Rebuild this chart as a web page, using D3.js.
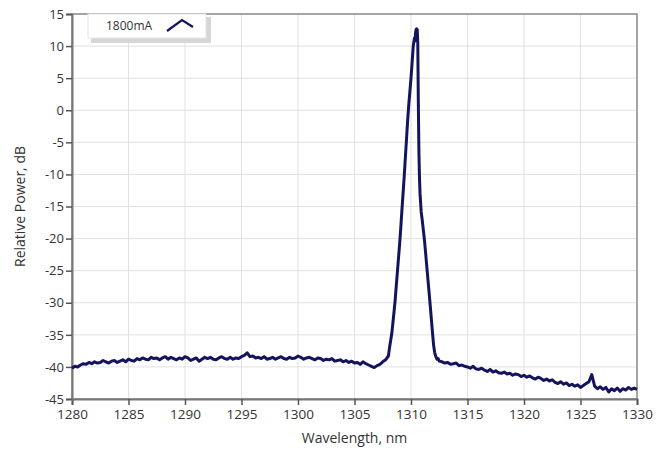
<!DOCTYPE html>
<html>
<head>
<meta charset="utf-8">
<script src="https://cdn.jsdelivr.net/npm/d3@7"></script>
<style>
  body { margin: 0; background: #fff; }
  text { font-family: "Open Sans", "Noto Sans", sans-serif; fill: #333; }
</style>
</head>
<body>
<svg id="spectrum" width="670" height="451"></svg>
<script>
// wavelength samples, nm
let wavelength = [
  1280.00, 1280.25, 1280.50, 1280.75, 1281.00, 1281.25, 1281.50, 1281.75,
  1282.00, 1282.25, 1282.50, 1282.75, 1283.00, 1283.25, 1283.50, 1283.75,
  1284.00, 1284.25, 1284.50, 1284.75, 1285.00, 1285.25, 1285.50, 1285.75,
  1286.00, 1286.25, 1286.50, 1286.75, 1287.00, 1287.25, 1287.50, 1287.75,
  1288.00, 1288.25, 1288.50, 1288.75, 1289.00, 1289.25, 1289.50, 1289.75,
  1290.00, 1290.25, 1290.50, 1290.75, 1291.00, 1291.25, 1291.50, 1291.75,
  1292.00, 1292.25, 1292.50, 1292.75, 1293.00, 1293.25, 1293.50, 1293.75,
  1294.00, 1294.25, 1294.50, 1294.75, 1295.00, 1295.25, 1295.50, 1295.75,
  1296.00, 1296.25, 1296.50, 1296.75, 1297.00, 1297.25, 1297.50, 1297.75,
  1298.00, 1298.25, 1298.50, 1298.75, 1299.00, 1299.25, 1299.50, 1299.75,
  1300.00, 1300.25, 1300.50, 1300.75, 1301.00, 1301.25, 1301.50, 1301.75,
  1302.00, 1302.25, 1302.50, 1302.75, 1303.00, 1303.25, 1303.50, 1303.75,
  1304.00, 1304.25, 1304.50, 1304.75, 1305.00, 1305.25, 1305.50, 1305.75,
  1306.00, 1306.25, 1306.50, 1306.75, 1307.00, 1307.25, 1307.50, 1307.75,
  1308.00, 1308.10, 1308.20, 1308.30, 1308.40, 1308.50, 1308.60, 1308.70,
  1308.80, 1308.90, 1309.00, 1309.10, 1309.20, 1309.30, 1309.40, 1309.50,
  1309.60, 1309.70, 1309.80, 1309.90, 1310.00, 1310.10, 1310.20, 1310.30,
  1310.35, 1310.40, 1310.45, 1310.50, 1310.55, 1310.60, 1310.65, 1310.70,
  1310.75, 1310.80, 1310.90, 1311.00, 1311.10, 1311.20, 1311.30, 1311.40,
  1311.50, 1311.60, 1311.70, 1311.80, 1311.90, 1312.00, 1312.10, 1312.20,
  1312.30, 1312.40, 1312.50,
  1312.75, 1313.00, 1313.25, 1313.50, 1313.75, 1314.00, 1314.25, 1314.50,
  1314.75, 1315.00, 1315.25, 1315.50, 1315.75, 1316.00, 1316.25, 1316.50,
  1316.75, 1317.00, 1317.25, 1317.50, 1317.75, 1318.00, 1318.25, 1318.50,
  1318.75, 1319.00, 1319.25, 1319.50, 1319.75, 1320.00, 1320.25, 1320.50,
  1320.75, 1321.00, 1321.25, 1321.50, 1321.75, 1322.00, 1322.25, 1322.50,
  1322.75, 1323.00, 1323.25, 1323.50, 1323.75, 1324.00, 1324.25, 1324.50,
  1324.75, 1325.00, 1325.25, 1325.50, 1325.75, 1326.00, 1326.25, 1326.50,
  1326.75, 1327.00, 1327.25, 1327.50, 1327.75, 1328.00, 1328.25, 1328.50,
  1328.75, 1329.00, 1329.25, 1329.50, 1329.75, 1330.00
]

// relative power at 1800mA, dB
let power1800 = [
  -40.2, -39.9, -40.0, -39.7, -39.5, -39.6, -39.3, -39.5,
  -39.2, -39.4, -39.3, -39.0, -39.2, -39.4, -39.1, -39.0,
  -39.3, -39.1, -38.9, -39.2, -38.8, -39.0, -39.1, -38.7,
  -38.9, -38.6, -38.8, -38.9, -38.5, -38.7, -38.6, -38.9,
  -38.6, -38.4, -38.8, -38.5, -38.7, -38.9, -38.6, -38.8,
  -38.4, -38.6, -39.0, -38.8, -38.6, -39.1, -38.8, -38.5,
  -38.7, -38.5, -38.8, -38.9, -38.6, -38.4, -38.7, -38.8,
  -38.5, -38.8, -38.6, -38.7, -38.4, -38.2, -37.8, -38.4,
  -38.3, -38.6, -38.5, -38.7, -38.4, -38.8, -38.7, -38.5,
  -38.8, -38.6, -38.4, -38.7, -38.8, -38.5, -38.7, -38.6,
  -38.3, -38.5, -38.8, -38.6, -38.5, -38.7, -38.9, -38.6,
  -38.7, -39.0, -38.8, -38.9, -38.7, -39.1, -39.0, -38.9,
  -39.2, -39.0, -39.3, -39.1, -39.4, -39.3, -39.6, -39.2,
  -39.5, -39.7, -39.9, -40.1, -39.8, -39.6, -39.2, -38.9,
  -38.3, -37.0, -35.9, -34.8, -33.1, -31.4, -29.6, -27.3,
  -25.1, -22.9, -20.7, -18.2, -15.5, -12.9, -10.3, -7.4,
  -4.6, -1.7, 0.8, 2.9, 5.0, 7.5, 10.0, 11.2,
  10.8, 12.0, 12.6, 12.7, 12.6, 10.5, 1.0, -6.5,
  -10.5, -13.0, -15.8, -17.2, -18.8, -20.4, -22.4, -24.4,
  -26.4, -28.4, -30.4, -32.5, -34.6, -36.6, -37.8, -38.4,
  -38.8, -38.7, -39.1,
  -39.2, -39.4, -39.3, -39.6, -39.5, -39.4, -39.8, -39.7,
  -39.9, -40.0, -40.2, -39.9, -40.3, -40.4, -40.2, -40.5,
  -40.7, -40.4, -40.8, -40.6, -40.9, -41.0, -40.8, -41.1,
  -41.0, -41.3, -41.1, -41.2, -41.5, -41.3, -41.6, -41.4,
  -41.7, -41.9, -41.6, -41.8, -42.1, -41.9, -42.2, -42.0,
  -42.4, -42.6, -42.3, -42.7, -42.5, -42.9, -42.7, -43.0,
  -42.8, -43.2, -42.9, -42.6, -42.3, -41.2, -43.0, -43.4,
  -43.1, -43.5, -43.2, -43.9, -43.4, -43.7, -43.3, -43.8,
  -43.4, -43.6, -43.2, -43.5, -43.3, -43.5
]

let xTicks = [1280, 1285, 1290, 1295, 1300, 1305, 1310, 1315, 1320, 1325, 1330]
let yTicks = [15, 10, 5, 0, -5, -10, -15, -20, -25, -30, -35, -40, -45]
let seriesName = "1800mA"

let data = wavelength.map((w, i) => ({ w: w, p: power1800[i] }))

let margin = { top: 14, right: 33, bottom: 52, left: 72 }
let width = 670
let height = 451
let svg = d3.select("#spectrum")

let x = d3.scaleLinear()
    .domain([1280, 1330])
    .range([margin.left, width - margin.right])

let y = d3.scaleLinear()
    .domain([-45, 15])
    .range([height - margin.bottom, margin.top])

// grid
svg.append("g")
    .attr("class", "grid")
    .selectAll("line.v")
    .data(xTicks)
    .join("line")
    .attr("x1", d => x(d)).attr("x2", d => x(d))
    .attr("y1", y(15)).attr("y2", y(-45))
    .style("stroke", "#e1e1e1")
    .style("stroke-width", "1px")

svg.append("g")
    .attr("class", "grid")
    .selectAll("line.h")
    .data(yTicks)
    .join("line")
    .attr("x1", x(1280)).attr("x2", x(1330))
    .attr("y1", d => y(d)).attr("y2", d => y(d))
    .style("stroke", "#e1e1e1")
    .style("stroke-width", "1px")

// frame
svg.append("rect")
    .attr("x", x(1280))
    .attr("y", y(15))
    .attr("width", x(1330) - x(1280))
    .attr("height", y(-45) - y(15))
    .style("fill", "none")
    .style("stroke", "#8c8c8c")
    .style("stroke-width", "1.5px")

let xAxis = d3.axisBottom(x)
    .tickValues(xTicks)
    .tickSize(6)
    .tickPadding(4)
    .tickFormat(d3.format("d"))

let yAxis = d3.axisLeft(y)
    .tickValues(yTicks)
    .tickSize(6)
    .tickPadding(2)
    .tickFormat(d => d < 0 ? "-" + Math.abs(d) : d)

let xAxisG = svg.append("g")
    .attr("transform", `translate(0,${y(-45)})`)
    .call(xAxis)
xAxisG.select(".domain").style("stroke", "#777").style("stroke-width", "2px")
xAxisG.selectAll(".tick line").style("stroke", "#555").style("stroke-width", "1.5px")
xAxisG.selectAll(".tick text")
    .style("font-size", "13.5px")
    .style("fill", "#333")
    .style("font-family", "'Open Sans', sans-serif")

let yAxisG = svg.append("g")
    .attr("transform", `translate(${x(1280)},0)`)
    .call(yAxis)
yAxisG.select(".domain").style("stroke", "#777").style("stroke-width", "2px")
yAxisG.selectAll(".tick line").style("stroke", "#555").style("stroke-width", "1.5px")
yAxisG.selectAll(".tick text")
    .style("font-size", "13px")
    .style("fill", "#333")
    .style("font-family", "'Open Sans', sans-serif")

// spectrum trace
let line = d3.line()
    .x(d => x(d.w))
    .y(d => y(d.p))

svg.append("path")
    .datum(data)
    .attr("d", line)
    .style("fill", "none")
    .style("stroke", "#14145e")
    .style("stroke-width", "3px")
    .style("stroke-linejoin", "round")

// axis titles
svg.append("text")
    .attr("text-anchor", "middle")
    .attr("x", (x(1280) + x(1330)) / 2)
    .attr("y", 443)
    .style("font-size", "14px")
    .text("Wavelength, nm")

svg.append("text")
    .attr("text-anchor", "middle")
    .attr("transform", `translate(25,${(y(15) + y(-45)) / 2}) rotate(-90)`)
    .style("font-size", "14px")
    .text("Relative Power, dB")

// legend
let legend = svg.append("g").attr("transform", "translate(88,14)")
legend.append("rect")
    .attr("x", 3).attr("y", 3)
    .attr("width", 120).attr("height", 26)
    .style("fill", "#d6d6d6")
legend.append("rect")
    .attr("x", 0).attr("y", 0)
    .attr("width", 118).attr("height", 24)
    .style("fill", "#fff")
    .style("stroke", "#e4e4e4")
legend.append("text")
    .attr("x", 18).attr("y", 16)
    .style("font-size", "12px")
    .text(seriesName)
legend.append("path")
    .attr("d", "M79,17 L94,6 L105,13")
    .style("fill", "none")
    .style("stroke", "#14145e")
    .style("stroke-width", "2.2px")
</script>
</body>
</html>
